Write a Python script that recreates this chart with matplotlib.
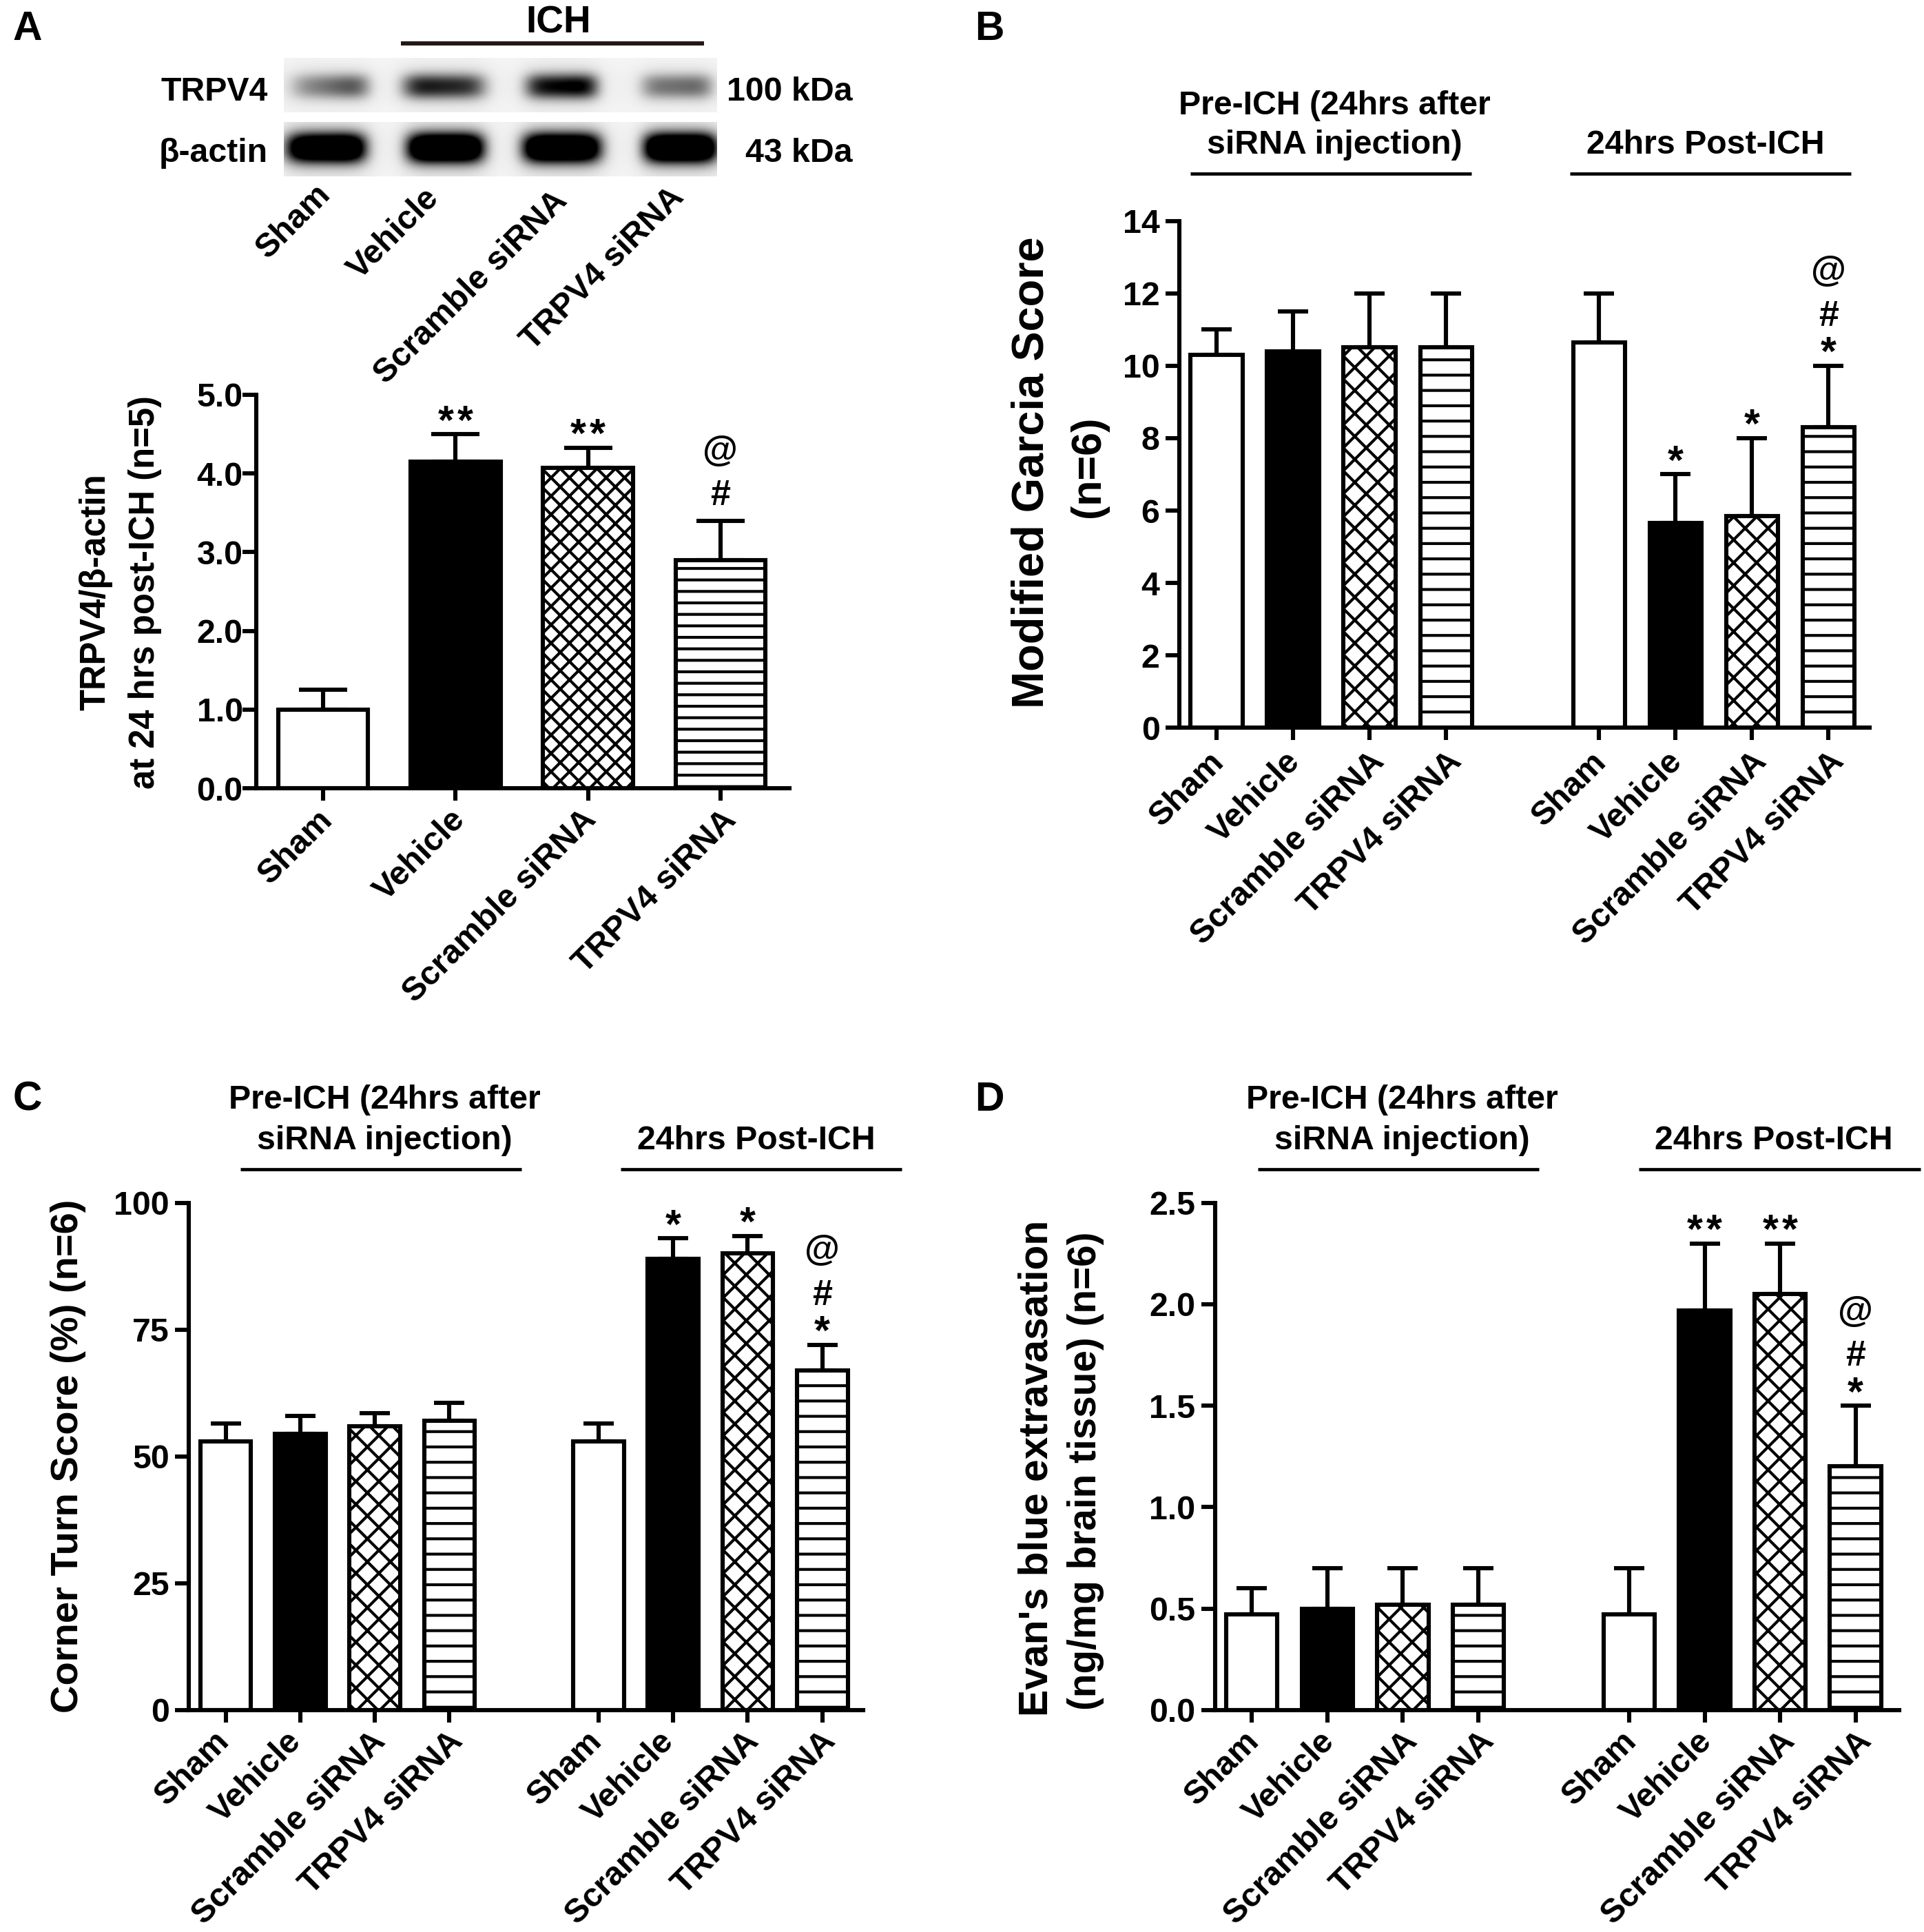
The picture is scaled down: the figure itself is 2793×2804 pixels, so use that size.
import numpy as np
import matplotlib
matplotlib.use('Agg')
import matplotlib.pyplot as plt
from matplotlib.lines import Line2D
from matplotlib.transforms import ScaledTranslation

plt.rcParams['font.family'] = ['Liberation Sans', 'DejaVu Sans']
plt.rcParams['font.weight'] = 'bold'
plt.rcParams['axes.labelweight'] = 'bold'
plt.rcParams['hatch.linewidth'] = 0.75

# data
groups = ['Sham', 'Vehicle', 'Scramble siRNA', 'TRPV4 siRNA']

a_vals = [1.0, 4.15, 4.07, 2.90]
a_tops = [1.25, 4.50, 4.33, 3.40]
a_marks = ['', '**', '**', '#@']
a_ticks = [0.0, 1.0, 2.0, 3.0, 4.0, 5.0]

b_vals = [10.3, 10.4, 10.5, 10.5, 10.65, 5.65, 5.85, 8.3]
b_tops = [11.0, 11.5, 12.0, 12.0, 12.0, 7.0, 8.0, 10.0]
b_marks = ['', '', '', '', '', '*', '*', '*#@']
b_ticks = [0, 2, 4, 6, 8, 10, 12, 14]

c_vals = [53, 54.5, 56, 57, 53, 89, 90, 67]
c_tops = [56.5, 58, 58.5, 60.5, 56.5, 93, 93.5, 72]
c_marks = ['', '', '', '', '', '*', '*', '*#@']
c_ticks = [0, 25, 50, 75, 100]

d_vals = [0.47, 0.50, 0.52, 0.52, 0.47, 1.97, 2.05, 1.20]
d_tops = [0.60, 0.70, 0.70, 0.70, 0.70, 2.30, 2.30, 1.50]
d_marks = ['', '', '', '', '', '**', '**', '*#@']
d_ticks = [0.0, 0.5, 1.0, 1.5, 2.0, 2.5]

# band darkness, left and right side of each lane
trpv4_left = [0.25, 0.80, 0.75, 0.40]
trpv4_right = [0.65, 0.65, 0.95, 0.50]
actin_left = [1.3, 1.5, 1.5, 1.5]
actin_right = [1.5, 1.5, 1.4, 1.5]

# sizes are measured on a 1560 wide copy of the picture
W, H = 1560.0, 1566.0
PT = 0.322  # points per layout pixel at 400 dpi
FS = 8.7
LW = 1.1

fig = plt.figure(figsize=(2793 / 400, 2804 / 400), dpi=400)


def ftext(x, y, s, **kw):
    kw.setdefault('fontsize', FS)
    kw.setdefault('ha', 'center')
    kw.setdefault('va', 'center')
    if kw.get('rotation') == 90:
        x += 2.5
    elif 'rotation' not in kw:
        y += 1.5
    fig.text(x / W, 1 - y / H, s, **kw)


def rule(x0, x1, y, lw=0.85, color='black'):
    fig.add_artist(Line2D([x0 / W, x1 / W], [1 - y / H, 1 - y / H], color=color,
                          lw=lw, solid_capstyle='butt'))


def bars(box, vals, tops, marks, ticks, xs, xlim, ticklabels, cap, shift, shift_y,
         cross='xxxx', stripe='---', ypad=1.5):
    left, top, right, bottom = box
    ax = fig.add_axes([left / W, 1 - bottom / H, (right - left) / W, (bottom - top) / H])
    fc = ['white', 'black', 'white', 'white']
    hatch = [None, None, cross, stripe]
    off = {'*': 9, '#': 40, '@': 76}
    for i, x in enumerate(xs):
        ax.errorbar(x, vals[i], yerr=[[0], [tops[i] - vals[i]]], color='black', lw=LW,
                    capsize=cap, capthick=LW, zorder=1)
        ax.bar(x, vals[i], width=0.68, facecolor=fc[i % 4], edgecolor='black',
               linewidth=LW, hatch=hatch[i % 4], zorder=2)
        if marks[i] == '**':
            for dx in (-7.8, 7.8):
                ax.annotate('*', (x, tops[i]), xytext=(dx * PT, off['*'] * PT), textcoords='offset points',
                            ha='center', va='center', fontsize=10.6)
        else:
            for m in marks[i]:
                dy = off[m]
                if marks[i] == '#@':
                    dy = off[m] - 20
                ax.annotate(m, (x, tops[i]), xytext=(0, dy * PT), textcoords='offset points',
                            ha='center', va='center', fontsize=10.6 if m == '*' else 9.4)
    ax.set_xlim(xlim)
    ax.set_ylim(ticks[0], ticks[-1])
    ax.set_yticks(ticks)
    ax.set_yticklabels(ticklabels, fontsize=FS)
    ax.set_xticks(xs)
    ax.set_xticklabels(groups * (len(xs) // 4), rotation=45, ha='right', va='top',
                       rotation_mode='anchor', fontsize=FS)
    ax.tick_params(axis='y', length=11 * PT, width=LW, pad=ypad)
    ax.tick_params(axis='x', length=10 * PT, width=LW, pad=2.5)
    # the rotated labels do not sit exactly under their ticks in the original
    for i, lab in enumerate(ax.get_xticklabels()):
        lab.set_transform(lab.get_transform() + ScaledTranslation(
            shift[i % 4] * PT / 72, shift_y * PT / 72, fig.dpi_scale_trans))
    for s in ['top', 'right']:
        ax.spines[s].set_visible(False)
    for s in ['left', 'bottom']:
        ax.spines[s].set_linewidth(LW)
    ax.patch.set_visible(False)
    return ax


# western blot strips drawn from the band darkness lists
def blot(box, lanes, left_d, right_d, half_h, dy):
    x0, y0, x1, y1 = box
    nx, ny = int((x1 - x0) * 2), int((y1 - y0) * 2)
    xx = np.linspace(x0, x1, nx)
    yy = np.linspace(y0, y1, ny)
    cy = (y0 + y1) / 2 + dy
    dark = np.zeros((ny, nx))
    for (l0, l1), dl, dr in zip(lanes, left_d, right_d):
        c, hw = (l0 + l1) / 2, (l1 - l0) / 2
        across = np.exp(-np.abs((xx - c) / hw) ** 5)
        slope = dl + (dr - dl) * np.clip((xx - l0) / (l1 - l0), 0, 1)
        along = np.exp(-np.abs((yy - cy) / half_h) ** 2.4)
        dark += np.outer(along, across * slope)
        # soft smear around each band
        halo = np.exp(-((yy - cy) / (half_h * 1.9)) ** 2)
        dark += 0.12 * (dl + dr) / 2 * np.outer(halo, np.exp(-((xx - c) / (hw * 1.1)) ** 4))
    img = 0.97 - 0.03 * np.exp(-((yy - cy) / (half_h * 2.2)) ** 2)[:, None] - dark
    ax = fig.add_axes([x0 / W, 1 - y1 / H, (x1 - x0) / W, (y1 - y0) / H])
    ax.imshow(np.clip(img, 0, 1), cmap='gray', vmin=0, vmax=1, aspect='auto', interpolation='bilinear',
              extent=(x0, x1, y1, y0))
    ax.axis('off')


lanes_t = [(235, 298), (327, 393), (426, 484), (520, 577)]
lanes_a = [(232, 296), (330, 392), (424, 487), (522, 581)]
blot((230, 47, 581, 91), lanes_t, trpv4_left, trpv4_right, 10, 1)
blot((230, 99, 581, 143), lanes_a, actin_left, actin_right, 12, -1)

# panel A
bars((208, 320, 640, 639), a_vals, a_tops, a_marks, a_ticks, [0, 1, 2, 3], (-0.503, 3.52),
     ['%.1f' % t for t in a_ticks], 6.3, [-5, -5, -6, 0], 5, cross='xxxxx', stripe='----', ypad=0)
ftext(75, 480, 'TRPV4/\u03b2-actin', rotation=90, fontsize=9.15)
ftext(115, 480, 'at 24 hrs post-ICH (n=5)', rotation=90, fontsize=9.15)

ftext(453, 17, 'ICH', fontsize=9.9)
rule(325, 571, 35, lw=1.1, color='#231815')
ftext(217, 73, 'TRPV4', ha='right')
ftext(217, 123, '\u03b2-actin', ha='right')
ftext(691, 73, '100 kDa', ha='right')
ftext(691, 123, '43 kDa', ha='right')
for name, x, y in zip(groups, [255, 343, 447, 542], [145, 148, 150, 147]):
    ftext(x, y, name, rotation=45, ha='right', va='top', rotation_mode='anchor')

# panel B
xs = [0, 1, 2, 3, 5, 6, 7, 8]
bars((956, 179, 1516, 590), b_vals, b_tops, b_marks, b_ticks, xs, (-0.492, 8.54),
     [str(t) for t in b_ticks], 3.9, [-7, -7, -1, 0], 3)
ftext(834, 383, 'Modified Garcia Score', rotation=90, fontsize=11.7)
ftext(880, 378, '(n=6)', rotation=90, fontsize=11)

# panel C
bars((153, 975, 700, 1386), c_vals, c_tops, c_marks, c_ticks, xs, (-0.496, 8.55),
     [str(t) for t in c_ticks], 3.9, [-10, -12, -4, -2], 5)
ftext(53, 1180, 'Corner Turn Score (%) (n=6)', rotation=90, fontsize=10.1)

# panel D
bars((985, 975, 1540, 1386), d_vals, d_tops, d_marks, d_ticks, xs, (-0.49, 8.58),
     ['%.1f' % t for t in d_ticks], 3.9, [-7, -7, -1, 0], 5)
ftext(838, 1190, "Evan's blue extravasation", rotation=90, fontsize=10.6)
ftext(878, 1192, '(ng/mg brain tissue) (n=6)', rotation=90, fontsize=10.2)

# group headers
for pre_c, pre_l, post_c, post_l, y1, y2, yr in [
        (1082, 965, 1383, 1273, 84, 116, 141),
        (312, 195, 613, 503, 890, 923, 948),
        (1137, 1020, 1438, 1329, 890, 923, 948)]:
    ftext(pre_c, y1, 'Pre-ICH (24hrs after')
    ftext(pre_c, y2, 'siRNA injection)')
    ftext(post_c, y2, '24hrs Post-ICH')
    rule(pre_l, pre_l + 228, yr)
    rule(post_l, post_l + 228, yr)

for s, x, y in [('A', 22, 22), ('B', 802, 22), ('C', 22, 890), ('D', 802, 890)]:
    ftext(x, y, s, fontsize=10.6)

fig.savefig('out.png', dpi=400, facecolor='white')
